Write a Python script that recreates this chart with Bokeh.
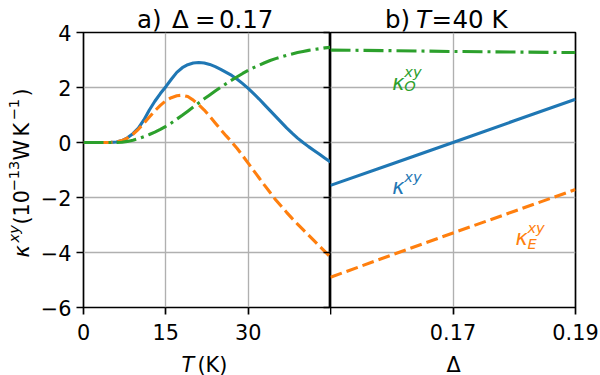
import math

from bokeh.plotting import figure
from bokeh.layouts import row, column
from bokeh.models import Label, FixedTicker, LinearAxis, Range1d, GridBox
from bokeh.embed import file_html
from bokeh.resources import INLINE

# ---- panel a: temperature sweep at Delta = 0.17 ----
T_K = list(range(0, 46))
kappa_T = [0, 0, 0, 0, 0, 0.005, 0.02, 0.07, 0.17, 0.32,
           0.52, 0.82, 1.18, 1.50, 1.78, 2.03, 2.30, 2.55, 2.72, 2.83,
           2.89, 2.91, 2.89, 2.84, 2.76, 2.66, 2.55, 2.44, 2.30, 2.14,
           1.97, 1.78, 1.58, 1.37, 1.16, 0.95, 0.74, 0.53, 0.34, 0.16,
           0.00, -0.15, -0.29, -0.43, -0.57, -0.71]
kappa_E_T = [0, 0, 0, 0, 0, 0.005, 0.02, 0.07, 0.16, 0.30,
             0.48, 0.70, 0.93, 1.15, 1.35, 1.52, 1.63, 1.70, 1.72, 1.67,
             1.54, 1.37, 1.18, 0.95, 0.71, 0.47, 0.24, 0.02, -0.22, -0.48,
             -0.75, -1.02, -1.29, -1.56, -1.82, -2.08, -2.31, -2.54, -2.76, -2.97,
             -3.17, -3.37, -3.57, -3.77, -3.97, -4.17]
kappa_O_T = [0, 0, 0, 0, 0, 0, 0, 0.01, 0.04, 0.08,
             0.14, 0.21, 0.29, 0.38, 0.48, 0.59, 0.71, 0.85, 0.99, 1.14,
             1.29, 1.44, 1.59, 1.73, 1.87, 2.01, 2.14, 2.27, 2.39, 2.51,
             2.62, 2.72, 2.81, 2.90, 2.98, 3.05, 3.11, 3.17, 3.22, 3.27,
             3.31, 3.35, 3.38, 3.41, 3.44, 3.46]

# ---- panel b: gap sweep at T = 40 K ----
delta = [0.15, 0.16, 0.17, 0.18, 0.19]
kappa_D = [-1.56, -0.78, 0.00, 0.79, 1.57]
kappa_E_D = [-4.90, -4.09, -3.29, -2.50, -1.71]
kappa_O_D = [3.36, 3.34, 3.31, 3.29, 3.27]

t_ticks = [0, 15, 30]
t_tick_labels = ["0", "15", "30"]
delta_ticks = [0.15, 0.17, 0.19]
delta_tick_labels = ["", "0.17", "0.19"]
y_ticks = [-6, -4, -2, 0, 2, 4]
y_tick_labels = ["\u22126", "\u22124", "\u22122", "0", "2", "4"]

FONT = "DejaVu Sans"
BIG = "20.8px"
TITLE = "24.5px"
SMALL = "14.6px"
LW = 3.1
SPINE = 1.7
BLUE, ORANGE, GREEN = "#1f77b4", "#ff7f0e", "#2ca02c"
DASH = "12 5"
DASHDOT = "20 5 3 5"


def style_axis(ax, ticker, labels):
    ax.ticker = FixedTicker(ticks=ticker)
    ax.major_label_overrides = {t: s for t, s in zip(ticker, labels)}
    ax.axis_line_color = None
    ax.major_tick_line_color = "black"
    ax.major_tick_line_width = SPINE
    ax.major_tick_out = 7
    ax.major_tick_in = 0
    ax.minor_tick_line_color = None
    ax.major_label_text_font = FONT
    ax.major_label_text_font_size = BIG
    ax.major_label_text_color = "black"


def style_frame(p):
    p.outline_line_color = "black"
    p.outline_line_width = SPINE
    p.outline_line_alpha = 1.0
    p.background_fill_color = "white"
    p.border_fill_color = "white"
    for g in p.xgrid + p.ygrid:
        g.grid_line_color = "#b0b0b0"
        g.grid_line_width = SPINE * 0.8


def text(p, x, y, s, size=BIG, italic=False, color="black",
         angle=0.0, align="left", xo=0, yo=0):
    p.add_layout(Label(x=x, y=y, text=s,
                       text_font=FONT, text_font_size=size,
                       text_font_style="italic" if italic else "normal",
                       text_color=color, text_align=align,
                       text_baseline="alphabetic", angle=angle,
                       x_offset=xo, y_offset=yo))


# ---------------- left panel ----------------
p1 = figure(width=330, height=375, x_range=Range1d(0, 45), y_range=Range1d(-6, 4),
            output_backend="svg", toolbar_location=None,
            min_border_left=83, min_border_right=0,
            min_border_top=32, min_border_bottom=68)
style_frame(p1)
style_axis(p1.xaxis[0], t_ticks, t_tick_labels)
style_axis(p1.yaxis[0], y_ticks, y_tick_labels)
p1.xaxis.major_label_standoff = 9
p1.yaxis.major_label_standoff = 5
p1.xgrid.ticker = FixedTicker(ticks=t_ticks)
p1.ygrid.ticker = FixedTicker(ticks=y_ticks)

# inward ticks on the shared boundary between the panels
right_ax = LinearAxis(ticker=FixedTicker(ticks=y_ticks), axis_line_color=None,
                      major_tick_in=7, major_tick_out=0,
                      major_tick_line_color="black", major_tick_line_width=SPINE,
                      minor_tick_line_color=None, major_label_standoff=0,
                      major_label_text_font_size="0px",
                      major_label_overrides={t: "" for t in y_ticks})
p1.add_layout(right_ax, "right")

p1.line(T_K, kappa_T, line_color=BLUE, line_width=LW)
p1.line(T_K, kappa_E_T, line_color=ORANGE, line_width=LW, line_dash=DASH)
p1.line(T_K, kappa_O_T, line_color=GREEN, line_width=LW, line_dash=DASHDOT)

# ---------------- right panel ----------------
p2 = figure(width=270, height=375, x_range=Range1d(0.15, 0.19), y_range=p1.y_range,
            output_backend="svg", toolbar_location=None, y_axis_location=None,
            min_border_left=0, min_border_right=25,
            min_border_top=32, min_border_bottom=68)
style_frame(p2)
style_axis(p2.xaxis[0], delta_ticks, delta_tick_labels)
p2.xaxis.major_label_standoff = 9
p2.xgrid.ticker = FixedTicker(ticks=delta_ticks)
p2.ygrid.ticker = FixedTicker(ticks=y_ticks)

p2.line(delta, kappa_D, line_color=BLUE, line_width=LW)
p2.line(delta, kappa_E_D, line_color=ORANGE, line_width=LW, line_dash=DASH)
p2.line(delta, kappa_O_D, line_color=GREEN, line_width=LW, line_dash=DASHDOT)

# curve labels: κ^xy, κ_O^xy, κ_E^xy
for x0, y0, sub, sub_dy, sup_dy, col in [(0.1601, -1.60, None, 0, 10, BLUE),
                                         (0.1601, 2.15, "O", -2, 12, GREEN),
                                         (0.1802, -3.48, "E", -5, 11, ORANGE)]:
    text(p2, x0, y0, "\u03ba", italic=True, color=col)
    text(p2, x0, y0, "xy", size=SMALL, italic=True, color=col, xo=12, yo=sup_dy)
    if sub:
        text(p2, x0, y0, sub, size=SMALL, italic=True, color=col, xo=12, yo=sub_dy)

# ------- transparent text layer (pixel coordinates, y downwards) -------
ov = figure(width=600, height=375, x_range=Range1d(0, 600), y_range=Range1d(375, 0),
            output_backend="svg", toolbar_location=None,
            x_axis_location=None, y_axis_location=None, min_border=0)
ov.grid.visible = False
ov.outline_line_color = None
ov.background_fill_color = None
ov.border_fill_color = None

# panel titles
for cx, s, it in [(136.5, "a)", False), (171.5, "\u0394", False), (194.5, "=", False),
                  (218.4, "0.17", False),
                  (384.5, "b)", False), (415.5, "T", True), (431, "=", False),
                  (452, "40", False), (491, "K", False)]:
    text(ov, cx, 18.5, s, size=TITLE, italic=it)

# x labels
text(ov, 181, 364, "T", italic=True)
text(ov, 197, 364, "(K)")
text(ov, 453, 364, "\u0394", align="center")

# y label: κ^xy (10^−13 W K^−1), rotated
rot = math.pi / 2
for cy, s, sup, it in [(257, "\u03ba", False, True), (242, "xy", True, True),
                       (224, "(10", False, False), (191, "\u221213", True, False),
                       (160, "W", False, False), (136, "K", False, False),
                       (120, "\u22121", True, False), (96, ")", False, False)]:
    cx = 13 if sup else 21.7
    text(ov, cx, cy, s, size=SMALL if sup else BIG, italic=it, angle=rot)

layout = GridBox(children=[(row(p1, p2), 0, 0), (column(ov), 0, 0)])
open("out.html", "w").write(file_html(layout, INLINE))
